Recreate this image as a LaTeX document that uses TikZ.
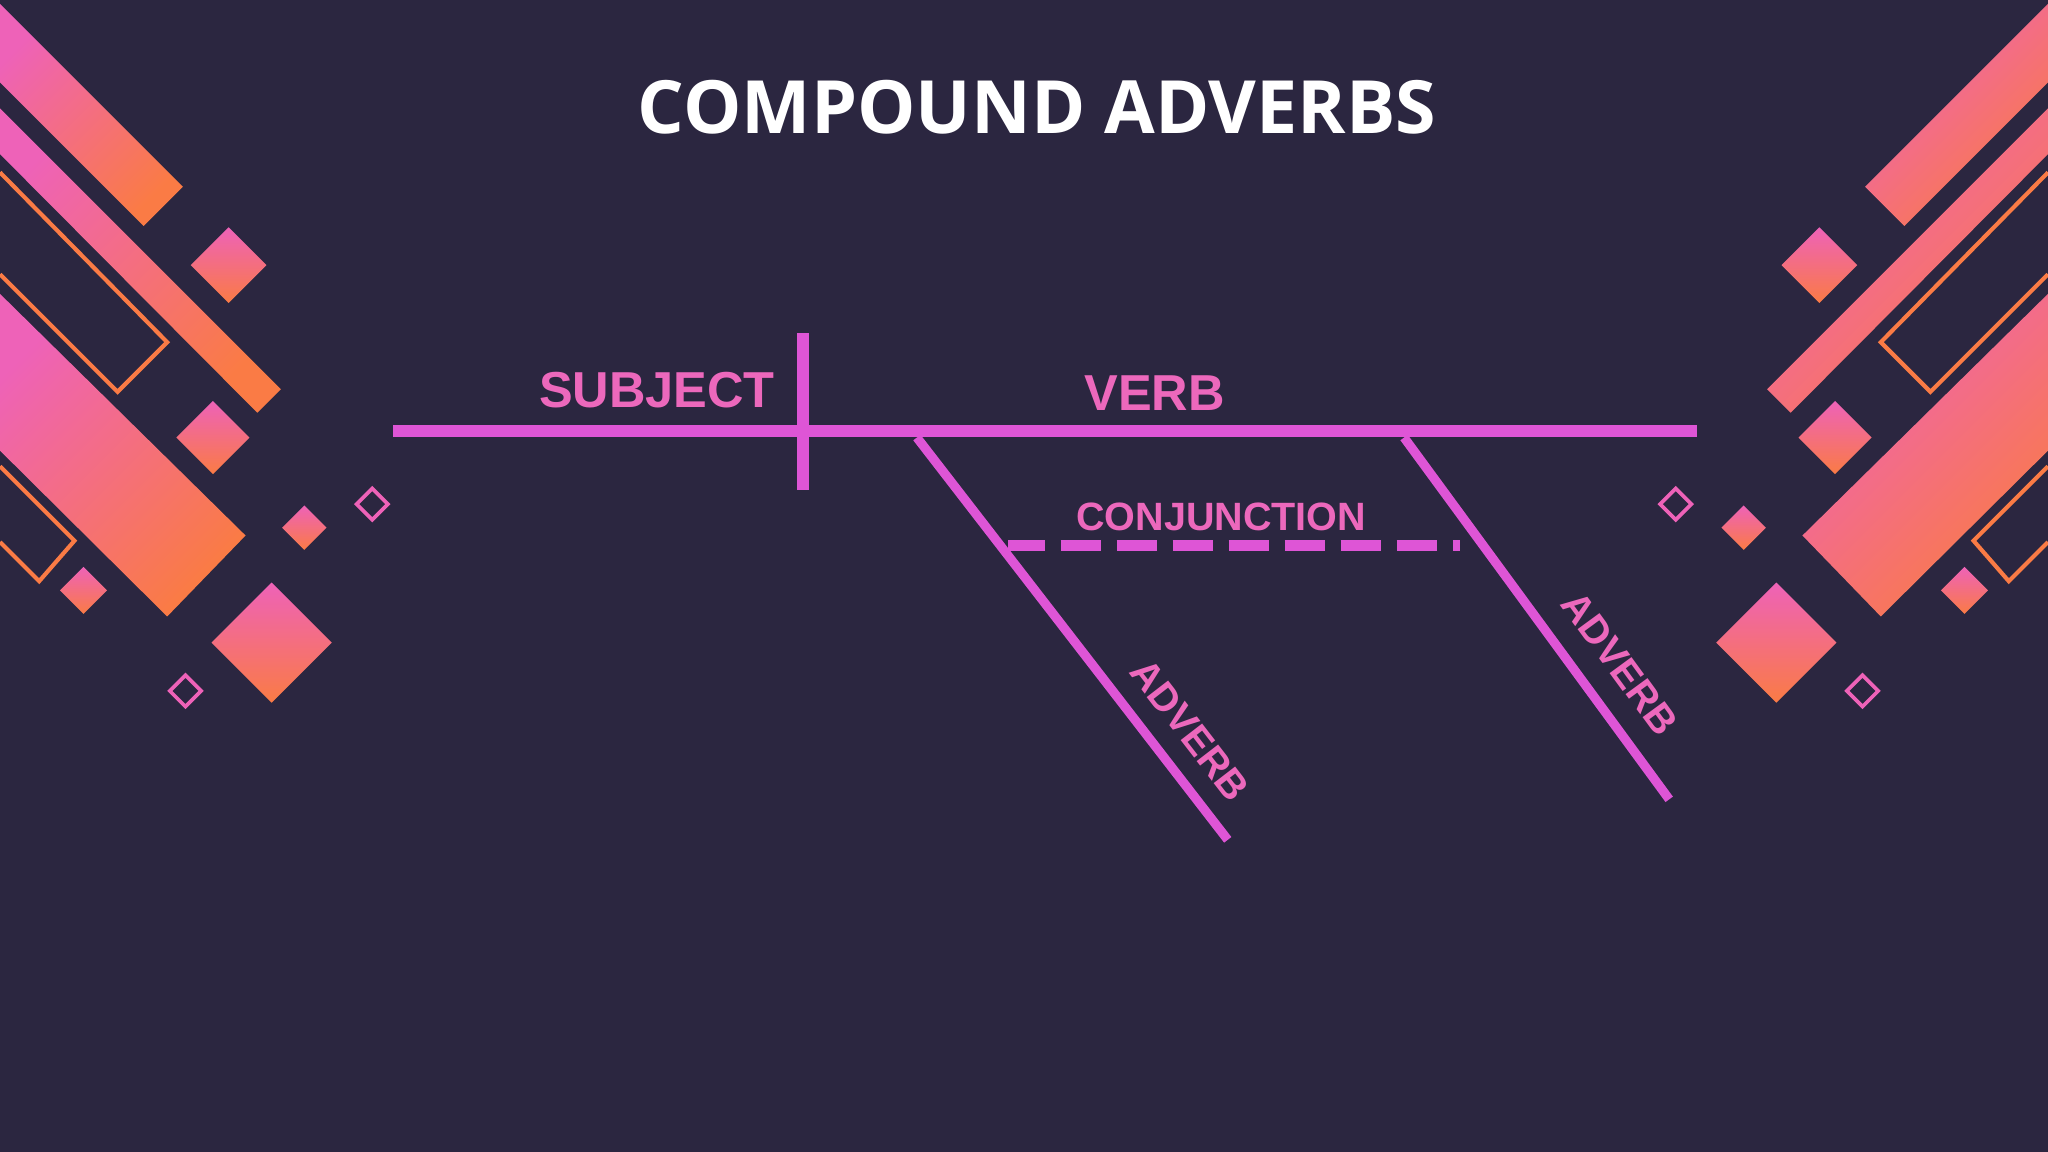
\documentclass[tikz,border=0pt]{standalone}
\usepackage{fontspec}
\setmainfont{Liberation Sans}
\newfontfamily\titlefont{Open Sans}
\definecolor{bg}{HTML}{2B2640}
\definecolor{ln}{HTML}{DE55D6}
\definecolor{tx}{HTML}{EC68BC}
\definecolor{orn}{HTML}{FA7B45}
\definecolor{pnk}{HTML}{EE62B8}
\begin{document}
\begin{tikzpicture}[x=0.01cm,y=-0.01cm,
  grad/.style={left color=pnk,right color=orn,shading angle=45},
  gradb/.style={top color=pnk,bottom color=orn,shading angle=0},
  outl/.style={draw=orn,line width=0.9pt},
  lbl/.style={text=tx,font=\bfseries\fontsize{11}{13}\selectfont,inner sep=0},
  slbl/.style={text=tx,font=\bfseries\fontsize{8.6}{10}\selectfont,inner sep=0},
  mainln/.style={draw=ln,line width=2.8pt},
  diag/.style={draw=ln,line width=2pt}]
\fill[bg] (0,0) rectangle (1568,882);
\useasboundingbox (0,0) rectangle (1568,882);
\foreach \s in {1,-1}{
\begin{scope}[xshift={(\s==1?0:1568)*0.01cm},xscale=\s]
\clip (0,0) rectangle (800,882);
\shade[grad] (0,3)--(140,143)--(110,173)--(0,63)--cycle;
\shade[grad] (0,83)--(215,298)--(197,316)--(0,118)--cycle;
\draw[outl] (0,132)--(128,262)--(90,300)--(0,210);
\shade[grad] (0,225)--(188,410)--(128,472)--(0,345)--cycle;
\draw[outl] (0,357)--(57,414)--(30,445)--(0,415);
\foreach \cx/\cy/\r in {175/203/29,163/335/28,233/404/17,64/452/18,208/492/46}{
  \shade[gradb] (\cx,\cy-\r)--(\cx+\r,\cy)--(\cx,\cy+\r)--(\cx-\r,\cy)--cycle;}
\foreach \cx/\cy/\r in {285/386/12,142/529/12}{
  \draw[draw=pnk,line width=0.8pt] (\cx,\cy-\r)--(\cx+\r,\cy)--(\cx,\cy+\r)--(\cx-\r,\cy)--cycle;}
\end{scope}}
\node[text=white,font=\titlefont\bfseries\fontsize{16}{19}\selectfont] (title) at (794,82) {COMPOUND ADVERBS};
\coordinate (hl) at (301,330); \coordinate (hr) at (1299,330);
\coordinate (vt) at (615,255); \coordinate (vb) at (615,375);
\coordinate (d1a) at (702,335); \coordinate (d1b) at (940,643);
\coordinate (d2a) at (1075,335); \coordinate (d2b) at (1278,612);
\coordinate (ca) at (772,418); \coordinate (cm) at (800,418); \coordinate (cb) at (1118,418);
\draw[mainln] (hl)--(hr);
\draw[draw=ln,line width=2.6pt] (vt)--(vb);
\draw[diag] (d1a)--(d1b);
\draw[diag] (d2a)--(d2b);
\draw[draw=ln,line width=2.4pt] (ca)--(cm);
\draw[draw=ln,line width=2.4pt,dash pattern=on 8.8pt off 3.4pt,dash phase=-3.4pt] (cm)--(cb);
\node[lbl] (subj) at (503,299) {SUBJECT};
\node[lbl] (verb) at (884,301) {VERB};
\node[slbl] (conj) at (935,396) {CONJUNCTION};
\node[slbl,rotate=-52.3] (adv1) at (911,559) {ADVERB};
\node[slbl,rotate=-53.8] (adv2) at (1240,508) {ADVERB};
\end{tikzpicture}
\end{document}
